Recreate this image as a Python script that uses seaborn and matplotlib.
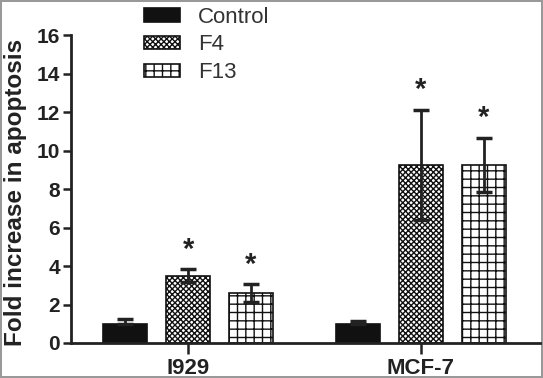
import matplotlib
matplotlib.use("Agg")
import matplotlib.pyplot as plt
import seaborn as sns
import pandas as pd

cell_lines = ["I929", "MCF-7"]
treatments = ["Control", "F4", "F13"]
means = {"Control": [1.0, 1.0], "F4": [3.5, 9.25], "F13": [2.6, 9.25]}
errors = {"Control": [0.25, 0.12], "F4": [0.32, 2.85], "F13": [0.45, 1.4]}
hatches = {"Control": "", "F4": "xxxxxx", "F13": "++"}

rows = []
for t in treatments:
    for c, m in zip(cell_lines, means[t]):
        rows.append({"cell": c, "treatment": t, "fold": m})
df = pd.DataFrame(rows)

sns.set_style("ticks")
plt.rcParams["font.family"] = ["Liberation Sans", "DejaVu Sans"]
plt.rcParams["hatch.linewidth"] = 1.0

fig = plt.figure(figsize=(5.43, 3.78), dpi=100)
ax = fig.add_axes([0.131, 0.0926, 0.863, 0.8144])

sns.barplot(data=df, x="cell", y="fold", hue="treatment", order=cell_lines,
            hue_order=treatments, errorbar=None, width=0.81, gap=0.31,
            palette=["#111111", "white", "white"], edgecolor="#111111",
            linewidth=1.2, ax=ax, legend=False)

bar_containers = list(ax.containers)
for cont, t in zip(bar_containers, treatments):
    for bar, m, e in zip(cont, means[t], errors[t]):
        bar.set_hatch(hatches[t])
        bar.set_edgecolor("#111111")
        cx = bar.get_x() + bar.get_width() / 2
        # control bars are solid, so only the upper half of the whisker shows
        lo = 0 if t == "Control" else e
        ax.errorbar(cx, m, yerr=[[lo], [e]], color="#222222", capsize=6,
                    elinewidth=2, capthick=2.5, zorder=5)
        if t != "Control":
            ax.text(cx, m + e + 0.3, "*", ha="center", va="bottom",
                    fontsize=21, fontweight="bold", color="#222222")

ax.set_ylim(0, 16)
ax.set_xlim(-0.502, 1.51)
ax.set_yticks(range(0, 17, 2))
ax.set_xlabel("")
ax.set_ylabel("Fold increase in apoptosis", fontsize=17.5, fontweight="bold",
              color="#222222")
ax.yaxis.set_label_coords(-0.095, 0.49)
for lab in ax.get_xticklabels() + ax.get_yticklabels():
    lab.set_fontweight("bold")
ax.tick_params(axis="y", labelsize=15, width=1.8, length=6, colors="#222222", pad=2)
ax.tick_params(axis="x", labelsize=16, width=1.8, length=8, colors="#222222", pad=3)
sns.despine(ax=ax)
for s in ["left", "bottom"]:
    ax.spines[s].set_linewidth(2)
    ax.spines[s].set_color("#222222")

handles = [c.patches[0] for c in bar_containers]
leg = fig.legend(handles, treatments, loc="upper left", bbox_to_anchor=(0.229, 1.035),
                 frameon=False, fontsize=16, handlelength=1.6, handleheight=0.55,
                 handletextpad=0.8, labelspacing=0.3)
for txt in leg.get_texts():
    txt.set_color("#333333")

fig.patch.set_edgecolor("#999999")
fig.patch.set_linewidth(1.5)

fig.savefig("out.png", dpi=100, edgecolor=fig.get_edgecolor())
